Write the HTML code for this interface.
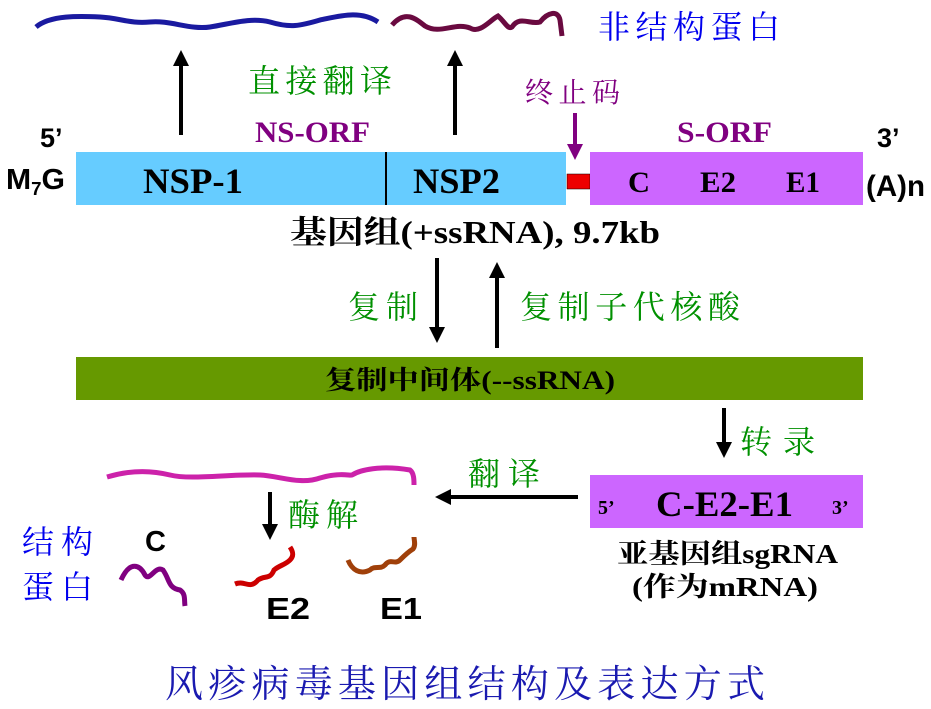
<!DOCTYPE html>
<html><head><meta charset="utf-8"><style>
html,body{margin:0;padding:0;background:#fff;}
svg{display:block;}
.s{font-family:"Liberation Serif","Noto Serif CJK SC",serif;font-weight:bold;}
.a{font-family:"Liberation Sans",sans-serif;font-weight:bold;}
.c{font-family:"Liberation Serif","Noto Serif CJK SC",serif;}
</style></head><body>
<svg width="931" height="709" viewBox="0 0 931 709" xmlns="http://www.w3.org/2000/svg">
<defs>
<marker id="ak" markerWidth="4" markerHeight="4" refX="2" refY="2" orient="auto" markerUnits="strokeWidth"><path d="M0,0 L4,2 L0,4 z" fill="#000"/></marker>
<marker id="ap" markerWidth="4" markerHeight="4" refX="2" refY="2" orient="auto" markerUnits="strokeWidth"><path d="M0,0 L4,2 L0,4 z" fill="#800080"/></marker>
</defs>
<path d="M36,27 C50,15 80,16 100,17 C120,18 130,24 150,22 C170,20 190,30 210,27 C230,24 250,17 270,22 C290,28 300,26 320,20 C340,16 360,10 378,22" fill="none" stroke="#1a1aa0" stroke-width="5"/>
<path d="M392,25 C405,10 415,18 425,26 C440,35 455,22 470,28 C480,34 490,20 498,16 C505,22 508,30 512,27 C520,15 530,25 540,22 C548,12 558,10 560,20 L562,36" fill="none" stroke="#6a0a40" stroke-width="5"/>
<text x="598" y="38" class="c" font-size="32" fill="#0000ee" textLength="182" lengthAdjust="spacing">非结构蛋白</text>
<line x1="181" y1="135" x2="181" y2="58" stroke="#000" stroke-width="4" marker-end="url(#ak)"/>
<line x1="455" y1="135" x2="455" y2="58" stroke="#000" stroke-width="4" marker-end="url(#ak)"/>
<text x="248" y="92" class="c" font-size="32" fill="#009000" textLength="144" lengthAdjust="spacing">直接翻译</text>
<text x="525" y="102" class="c" font-size="28" fill="#800080" textLength="95" lengthAdjust="spacing">终止码</text>
<line x1="575" y1="113" x2="575" y2="152" stroke="#800080" stroke-width="4" marker-end="url(#ap)"/>
<text x="255" y="142" class="s" font-size="30" fill="#800080" textLength="115" lengthAdjust="spacingAndGlyphs">NS-ORF</text>
<text x="677" y="142" class="s" font-size="30" fill="#800080" textLength="95" lengthAdjust="spacingAndGlyphs">S-ORF</text>
<text x="40" y="147" class="a" font-size="27">5’</text>
<text x="877" y="147" class="a" font-size="27">3’</text>
<text x="6" y="189" class="a" font-size="29" textLength="59" lengthAdjust="spacingAndGlyphs">M<tspan font-size="18" dy="6">7</tspan><tspan dy="-6">G</tspan></text>
<text x="866" y="196" class="a" font-size="30" textLength="59" lengthAdjust="spacingAndGlyphs">(A)n</text>
<rect x="76" y="152" width="490" height="53" fill="#66ccff"/>
<line x1="386" y1="152" x2="386" y2="205" stroke="#000" stroke-width="2"/>
<rect x="567" y="174" width="23" height="15" fill="#ee0000" stroke="#000" stroke-width="0.5"/>
<rect x="590" y="152" width="273" height="53" fill="#cc66ff"/>
<text x="143" y="193" class="s" font-size="36" textLength="100" lengthAdjust="spacingAndGlyphs">NSP-1</text>
<text x="413" y="193" class="s" font-size="36" textLength="87" lengthAdjust="spacingAndGlyphs">NSP2</text>
<text x="628" y="192" class="s" font-size="30" textLength="22" lengthAdjust="spacingAndGlyphs">C</text>
<text x="700" y="192" class="s" font-size="30" textLength="36" lengthAdjust="spacingAndGlyphs">E2</text>
<text x="786" y="192" class="s" font-size="30" textLength="34" lengthAdjust="spacingAndGlyphs">E1</text>
<text x="290" y="243" class="s" font-size="32" textLength="370" lengthAdjust="spacingAndGlyphs">基因组(+ssRNA), 9.7kb</text>
<line x1="437" y1="258" x2="437" y2="335" stroke="#000" stroke-width="4" marker-end="url(#ak)"/>
<line x1="497" y1="348" x2="497" y2="270" stroke="#000" stroke-width="4" marker-end="url(#ak)"/>
<text x="348" y="318" class="c" font-size="32" fill="#009000" textLength="70" lengthAdjust="spacing">复制</text>
<text x="520" y="318" class="c" font-size="32" fill="#009000" textLength="220" lengthAdjust="spacing">复制子代核酸</text>
<rect x="76" y="357" width="787" height="43" fill="#669900"/>
<text x="325" y="389" class="s" font-size="26" textLength="290" lengthAdjust="spacingAndGlyphs">复制中间体(--ssRNA)</text>
<line x1="724" y1="408" x2="724" y2="450" stroke="#000" stroke-width="4" marker-end="url(#ak)"/>
<text x="740" y="453" class="c" font-size="32" fill="#009000" textLength="75" lengthAdjust="spacing">转录</text>
<rect x="590" y="475" width="273" height="53" fill="#cc66ff"/>
<text x="598" y="514" class="s" font-size="20">5’</text>
<text x="656" y="516" class="s" font-size="36" textLength="137" lengthAdjust="spacingAndGlyphs">C-E2-E1</text>
<text x="832" y="514" class="s" font-size="20">3’</text>
<text x="617" y="563" class="s" font-size="27" textLength="221" lengthAdjust="spacingAndGlyphs">亚基因组sgRNA</text>
<text x="632" y="596" class="s" font-size="27" textLength="186" lengthAdjust="spacingAndGlyphs">(作为mRNA)</text>
<line x1="578" y1="497" x2="443" y2="497" stroke="#000" stroke-width="4" marker-end="url(#ak)"/>
<text x="468" y="485" class="c" font-size="32" fill="#009000" textLength="72" lengthAdjust="spacing">翻译</text>
<path d="M107,477 C130,470 150,470 170,475 C190,480 230,474 260,475 C280,476 300,485 320,478 C340,472 350,476 352,475 C360,470 380,465 410,470 C414,473 414,480 414,485" fill="none" stroke="#cc22aa" stroke-width="5"/>
<line x1="270" y1="492" x2="270" y2="532" stroke="#000" stroke-width="4" marker-end="url(#ak)"/>
<text x="288" y="526" class="c" font-size="32" fill="#009000" textLength="70" lengthAdjust="spacing">酶解</text>
<text x="22" y="553" class="c" font-size="32" fill="#0000ee" textLength="71" lengthAdjust="spacing">结构</text>
<text x="22" y="598" class="c" font-size="32" fill="#0000ee" textLength="71" lengthAdjust="spacing">蛋白</text>
<text x="145" y="551" class="a" font-size="29">C</text>
<path d="M121,580 C130,560 140,565 145,575 C150,582 155,565 163,570 C170,580 168,588 180,590 C186,594 184,600 185,606" fill="none" stroke="#800080" stroke-width="5"/>
<path d="M235,584 C245,580 250,590 258,580 C265,575 270,580 274,570 C280,565 285,565 290,560 C295,555 292,550 290,547" fill="none" stroke="#cc0000" stroke-width="5"/>
<text x="266" y="619" class="a" font-size="31" textLength="44" lengthAdjust="spacingAndGlyphs">E2</text>
<path d="M348,560 C352,570 360,575 370,570 C375,565 380,570 385,565 C390,558 395,565 400,560 C405,555 408,552 413,549 C416,545 414,540 414,537" fill="none" stroke="#a0400a" stroke-width="5"/>
<text x="380" y="619" class="a" font-size="31" textLength="42" lengthAdjust="spacingAndGlyphs">E1</text>
<text x="165" y="697" class="c" font-size="38" fill="#1a1ab0" textLength="600" lengthAdjust="spacing">风疹病毒基因组结构及表达方式</text>
</svg>
</body></html>
